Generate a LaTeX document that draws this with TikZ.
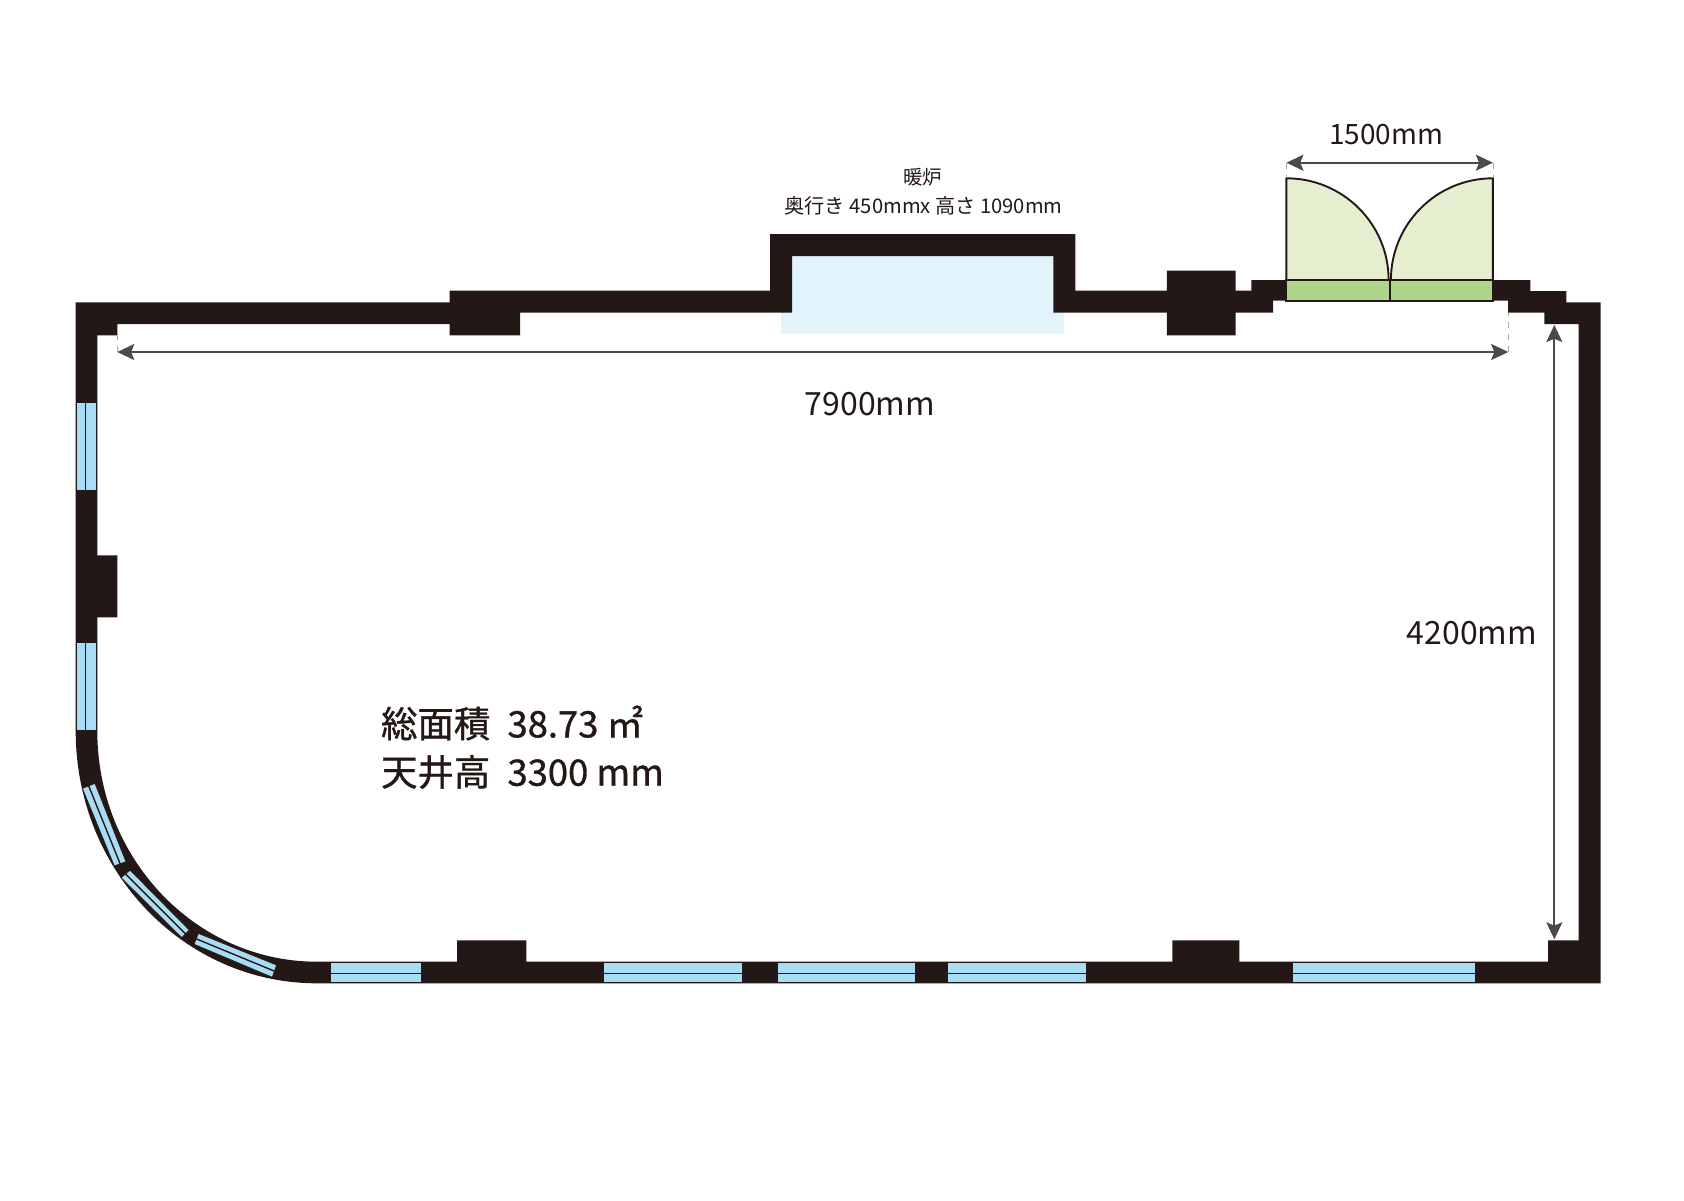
\documentclass[tikz,border=0pt]{standalone}
\usepackage{fontspec}
\setmainfont{Noto Sans CJK JP}
\newfontfamily\heavyjp[FakeBold=1.0]{Noto Sans CJK JP}
\usetikzlibrary{arrows.meta}
\definecolor{wallblack}{HTML}{231815}
\definecolor{dimgrey}{HTML}{4C4948}
\definecolor{glassblue}{HTML}{AADCF5}
\definecolor{hearthblue}{HTML}{E3F3FB}
\definecolor{leafgreen}{HTML}{E5EFCF}
\definecolor{stepgreen}{HTML}{AED58A}
\tikzset{
  glass/.style={fill=glassblue,draw=wallblack,line width=0.4pt},
  glassmid/.style={draw=wallblack,line width=0.7pt},
  doorline/.style={draw=wallblack,line width=0.95pt},
  dimline/.style={draw=dimgrey,line width=0.9pt,{Stealth[length=8.5pt,width=8pt,inset=1.6pt]}-{Stealth[length=8.5pt,width=8pt,inset=1.6pt]}},
  extline/.style={draw=gray!70,line width=0.4pt,dashed},
  label/.style={text=wallblack,inner sep=0pt}
}

\begin{document}
\begin{tikzpicture}[x=0.5pt,y=-0.5pt]
  \useasboundingbox (0,0) rectangle (1684,1200);

  % fireplace floor
  \fill[hearthblue] (792,256) rectangle (1053.3,313);
  \fill[hearthblue] (781,312) rectangle (1064,334);

  % walls
  \fill[wallblack,even odd rule]
    (75.7,302.3) -- (449.7,302.3) -- (449.7,290.5) -- (770,290.5)
    -- (770,234) -- (1075.3,234) -- (1075.3,290.5) -- (1166.8,290.5)
    -- (1166.8,270.7) -- (1235.7,270.7) -- (1235.7,290.5) -- (1251.4,290.5)
    -- (1251.4,280) -- (1530.4,280) -- (1530.4,291) -- (1566.4,291)
    -- (1566.4,302.3) -- (1600.5,302.3) -- (1600.5,983.3) -- (317,983.3)
    arc[start angle=90,end angle=180,x radius=241.3,y radius=252.3] -- cycle
    (97.3,335.3) -- (117.3,335.3) -- (117.3,324) -- (449.7,324)
    -- (449.7,335.3) -- (520,335.3) -- (520,312.5) -- (792,312.5)
    -- (792,256) -- (1053.3,256) -- (1053.3,312.5) -- (1166.8,312.5)
    -- (1166.8,335.3) -- (1235.7,335.3) -- (1235.7,312.5) -- (1273.2,312.5)
    -- (1273.2,300.7) -- (1508.2,300.7) -- (1508.2,312.7) -- (1544.3,312.7)
    -- (1544.3,324) -- (1578.7,324) -- (1578.7,940.3) -- (1548,940.3)
    -- (1548,961.7) -- (1239.3,961.7) -- (1239.3,940.3) -- (1172.3,940.3)
    -- (1172.3,961.7) -- (526.4,961.7) -- (526.4,940.3) -- (457,940.3)
    -- (457,961.7) -- (317,961.7)
    arc[start angle=90,end angle=180,x radius=219.7,y radius=230.7]
    -- (97.3,617.3) -- (117.3,617.3) -- (117.3,555.3) -- (97.3,555.3) -- cycle;

  % windows
  \foreach \xa/\xb in {330/421.7,603.3/742,776.9/915,947.6/1086.3,1292.3/1475.7} {
    \draw[glass] (\xa,962.8) rectangle (\xb,982.8);
    \draw[glassmid] (\xa,973.3) -- (\xb,973.3);
  }
  \foreach \ya/\yb in {402.3/490,642.3/730} {
    \draw[glass] (76.7,\ya) rectangle (96,\yb);
    \draw[glassmid] (85.3,\ya) -- (85.3,\yb);
  }
  \foreach \ax/\ay/\bx/\by/\cx/\cy/\dx/\dy in {
    82.3/788.3/95/783.3/126/861.7/114.3/866,
    121/877.7/130/870/189.3/930/181.7/937.7,
    194/944.3/198.3/933.3/276.7/965/272.3/977.3} {
    \draw[glass] (\ax,\ay) -- (\bx,\by) -- (\cx,\cy) -- (\dx,\dy) -- cycle;
    \draw[glassmid] ({(\ax+\bx)/2},{(\ay+\by)/2}) -- ({(\cx+\dx)/2},{(\cy+\dy)/2});
  }

  % doors
  \fill[stepgreen] (1286.4,280) rectangle (1492.9,300.7);
  \draw[doorline] (1286.4,280) rectangle (1492.9,300.7);
  \draw[doorline] (1389.6,280) -- (1389.6,300.7);
  \draw[doorline,fill=leafgreen] (1286.4,280) -- (1286.4,178.3)
    arc[start angle=-90,end angle=0,x radius=102.2,y radius=101.7] -- cycle;
  \draw[doorline,fill=leafgreen] (1492.9,280) -- (1492.9,178.3)
    arc[start angle=-90,end angle=-180,x radius=102,y radius=101.7] -- cycle;

  % dimensions
  \coordinate (doorL) at (1286.4,162.7);
  \coordinate (doorR) at (1492.9,162.7);
  \coordinate (longL) at (117.3,352);
  \coordinate (longR) at (1508.2,352);
  \coordinate (sideT) at (1554.3,325);
  \coordinate (sideB) at (1554.3,939.3);
  \coordinate (doorLend) at (1286.4,178.3);
  \coordinate (doorRend) at (1492.9,178.3);
  \coordinate (longLend) at (117.3,335.3);
  \coordinate (longRend) at (1508.2,312.7);
  \draw[extline] (doorL) -- (doorLend);
  \draw[extline] (doorR) -- (doorRend);
  \draw[extline] (longL) -- (longLend);
  \draw[extline] (longR) -- (longRend);
  \draw[dimline] (doorL) -- (doorR);
  \draw[dimline] (longL) -- (longR);
  \draw[dimline] (sideT) -- (sideB);

  % labels
  \node[label,font=\fontsize{14}{16}\selectfont] (doorwidth) at (1386,135) {1500mm};
  \node[label,font=\fontsize{16}{18}\selectfont] (roomlength) at (870,404) {7900mm};
  \node[label,font=\fontsize{16}{18}\selectfont] (roomdepth) at (1472,633) {4200mm};
  \node[label,font=\fontsize{9.75}{11}\selectfont] (hearthname) at (922.7,177.3) {暖炉};
  \node[label,font=\fontsize{10.1}{11}\selectfont] (hearthsize) at (923.5,205.7) {奥行き 450mmx 高さ 1090mm};
  \node[label,anchor=west,font=\heavyjp\fontsize{18.2}{25}\selectfont] (areatext) at (380.7,723) {総面積\hspace{8.6pt}38.73 ㎡};
  \node[label,anchor=west,font=\heavyjp\fontsize{18.2}{25}\selectfont] (heighttext) at (380.7,772) {天井高\hspace{8.6pt}3300 mm};
\end{tikzpicture}
\end{document}
